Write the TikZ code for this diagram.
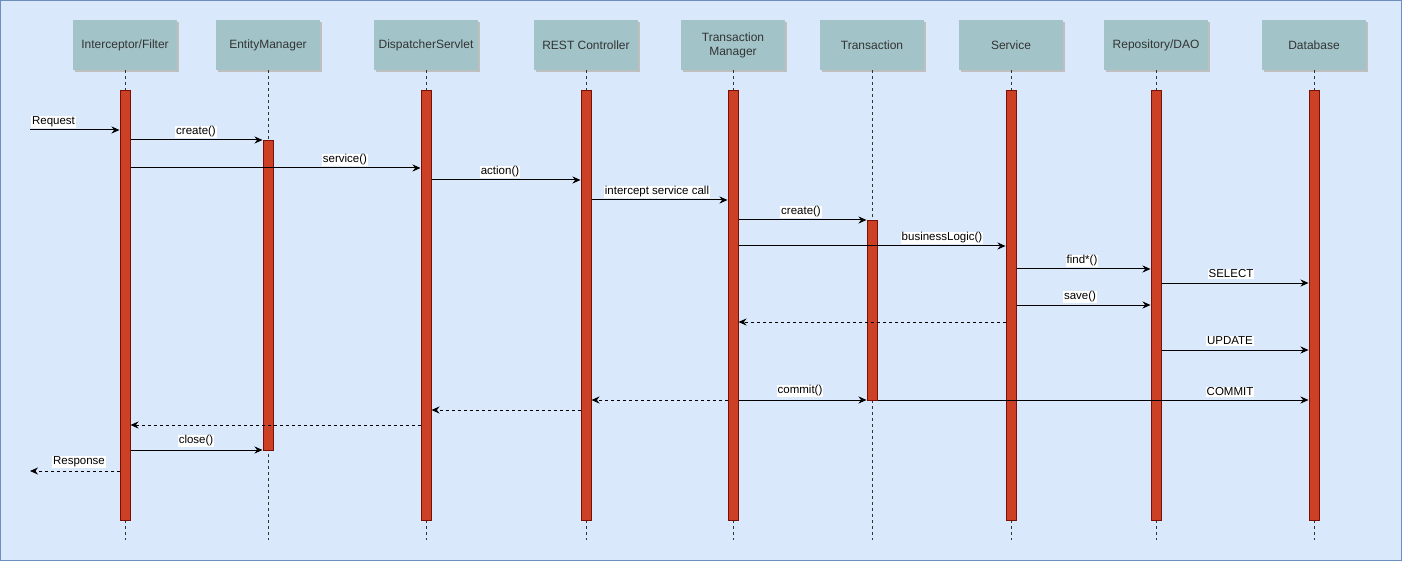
\documentclass[tikz,border=0pt]{standalone}
\usepackage{fontspec}
\setmainfont{Liberation Sans}
\usetikzlibrary{arrows.meta,shadows}

\definecolor{bgblue}{HTML}{DAE8FC}
\definecolor{bgline}{HTML}{6C8EBF}
\definecolor{headfill}{HTML}{A2C4C9}
\definecolor{barfill}{HTML}{CC4125}
\definecolor{barline}{HTML}{7A0F05}

\tikzset{
  head/.style={fill=headfill, minimum width=104pt, minimum height=50pt, inner sep=0pt,
    align=center, text=black!80, font=\fontsize{12}{14}\selectfont,
    drop shadow={shadow xshift=2pt, shadow yshift=-2pt, fill=black!25, opacity=1}},
  actbar/.style={draw=barline, fill=barfill, line width=1pt, minimum width=10pt,
    minimum height=#1, anchor=north, inner sep=0pt},
  lifeline/.style={draw=black!80, line width=0.8pt, dash pattern=on 3pt off 3pt},
  msg/.style={draw=black, line width=1pt, -{Stealth[length=8pt,width=7pt]}},
  ret/.style={msg, dash pattern=on 3pt off 3pt},
  lbl/.style={fill=white, inner sep=0.8pt, font=\fontsize{11.5}{13}\selectfont}
}

\begin{document}
\begin{tikzpicture}[x=1pt,y=1pt,yscale=-1,xscale=1]

\useasboundingbox (0,0) rectangle (1402,561);
\draw [draw=bgline, fill=bgblue, line width=1pt] (0.5,0.5) rectangle (1401.5,560.5);

% headers
\node [head] (ic) at (125,45) {Interceptor/Filter};
\node [head] (em) at (268,45) {EntityManager};
\node [head] (ds) at (426,45) {DispatcherServlet};
\node [head] (rc) at (586,45) {REST Controller};
\node [head] (tm) at (733,45) {Transaction\\Manager};
\node [head] (tx) at (872,45) {Transaction};
\node [head] (sv) at (1011,45) {Service};
\node [head] (rp) at (1156,45) {Repository/DAO};
\node [head] (db) at (1314,45) {Database};

% lifelines
\foreach \h in {ic,em,ds,rc,tm,tx,sv,rp,db}
  \draw [lifeline] (\h.south) -- (\h.south |- 0,540);

% activation bars
\node [actbar=430pt] (icbar) at (125,90) {};
\node [actbar=310pt] (embar) at (268,140) {};
\node [actbar=430pt] (dsbar) at (426,90) {};
\node [actbar=430pt] (rcbar) at (586,90) {};
\node [actbar=430pt] (tmbar) at (733,90) {};
\node [actbar=180pt] (txbar) at (872,220) {};
\node [actbar=430pt] (svbar) at (1011,90) {};
\node [actbar=430pt] (rpbar) at (1156,90) {};
\node [actbar=430pt] (dbbar) at (1314,90) {};

% request part
\coordinate (req) at (30,130);
\draw [msg] (req) -- (icbar.west |- req);
\node [lbl] (reqlbl) at (53.5,122) {Request};
\draw [msg] (icbar.east |- 0,140) -- (embar.west |- 0,140);
\node [lbl] (emcreate) at (196,132) {create()};
\draw [msg] (icbar.east |- 0,168) -- (dsbar.west |- 0,168);
\node [lbl] (dsservice) at (345,160) {service()};
\draw [msg] (dsbar.east |- 0,180) -- (rcbar.west |- 0,180);
\node [lbl] (rcaction) at (500,172) {action()};
\draw [msg] (rcbar.east |- 0,200) -- (tmbar.west |- 0,200);
\node [lbl] (tmcall) at (657,192) {intercept service call};

% transaction part
\draw [msg] (tmbar.east |- 0,220) -- (txbar.west |- 0,220);
\node [lbl] (txcreate) at (801,212) {create()};
\draw [msg] (tmbar.east |- 0,246) -- (svbar.west |- 0,246);
\node [lbl] (svlogic) at (942,238) {businessLogic()};
\draw [msg] (svbar.east |- 0,269) -- (rpbar.west |- 0,269);
\node [lbl] (rpfind) at (1082,261) {find*()};
\draw [msg] (rpbar.east |- 0,283) -- (dbbar.west |- 0,283);
\node [lbl] (dbselect) at (1231,274) {SELECT};
\draw [msg] (svbar.east |- 0,305) -- (rpbar.west |- 0,305);
\node [lbl] (rpsave) at (1080,297) {save()};
\draw [ret] (svbar.west |- 0,322) -- (tmbar.east |- 0,322);
\draw [msg] (rpbar.east |- 0,350) -- (dbbar.west |- 0,350);
\node [lbl] (dbupdate) at (1230,341) {UPDATE};
\draw [msg] (tmbar.east |- 0,400) -- (txbar.west |- 0,400);
\node [lbl] (txcommit) at (800,391) {commit()};
\draw [msg] (txbar.east |- 0,400) -- (dbbar.west |- 0,400);
\node [lbl] (dbcommit) at (1230,392) {COMMIT};

% response part
\draw [ret] (tmbar.west |- 0,400) -- (rcbar.east |- 0,400);
\draw [ret] (rcbar.west |- 0,410) -- (dsbar.east |- 0,410);
\draw [ret] (dsbar.west |- 0,425) -- (icbar.east |- 0,425);
\draw [msg] (icbar.east |- 0,450) -- (embar.west |- 0,450);
\node [lbl] (emclose) at (196,441) {close()};
\coordinate (resp) at (30,471);
\draw [ret] (icbar.west |- resp) -- (resp);
\node [lbl] (resplbl) at (79,462) {Response};

\end{tikzpicture}
\end{document}
